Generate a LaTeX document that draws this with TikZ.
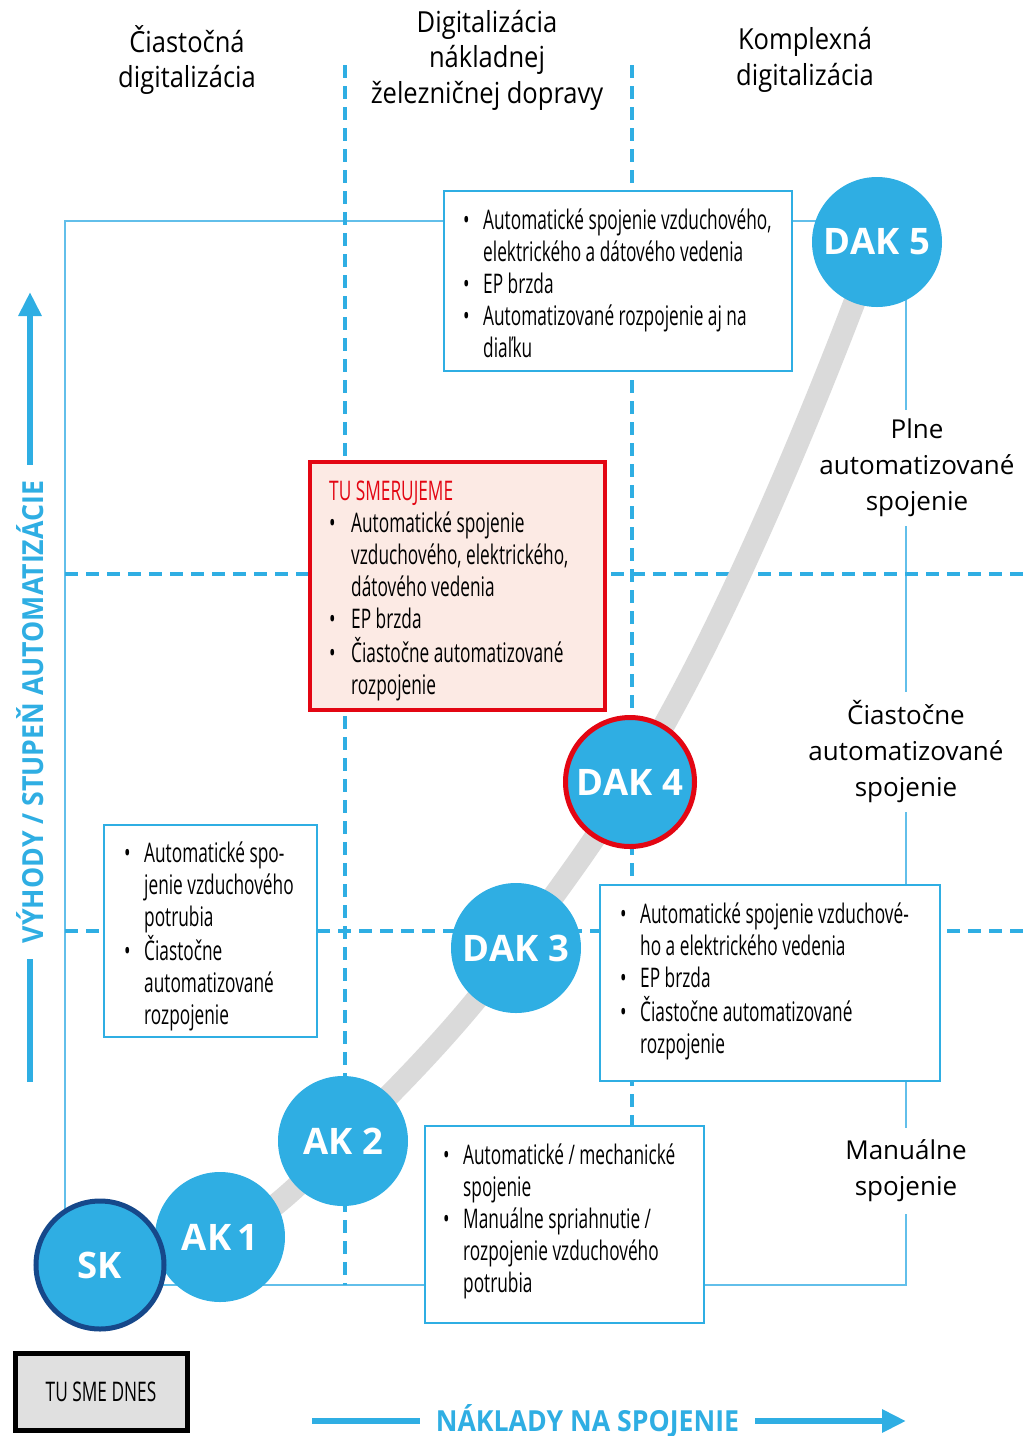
\documentclass[tikz,border=0pt]{standalone}
\usepackage{fontspec}
\setmainfont{Open Sans}
\newfontfamily\condf[FakeStretch=0.64]{Open Sans}
\newfontfamily\hdf[FakeStretch=0.88]{Open Sans}
\newfontfamily\axf[FakeStretch=0.92]{Open Sans}
\usetikzlibrary{arrows.meta}
\definecolor{cy}{HTML}{2FAEE3}
\definecolor{cyl}{HTML}{62BFEA}
\definecolor{dkb}{HTML}{16488A}
\definecolor{rd}{HTML}{E30613}
\definecolor{pk}{HTML}{FCEAE4}
\definecolor{grc}{HTML}{DADADA}
\definecolor{gbox}{HTML}{E0E0E0}
\newcommand\boxf{\condf\fontsize{27}{32}\selectfont}
\newcommand\circf{\bfseries\fontsize{36.5}{40}\selectfont}
\newcommand\lblf{\fontsize{26}{36}\selectfont}
\newcommand\hdfont{\hdf\fontsize{29}{35.5}\selectfont}
\newcommand\axfont{\axf\bfseries\fontsize{29}{32}\selectfont}
\pgfdeclarelayer{bg}
\pgfsetlayers{bg,main}
\begin{document}
\begin{tikzpicture}[x=1pt,y=-1pt,
  bx/.style={draw=cy, line width=2.5pt, fill=white, inner sep=0pt, rectangle},
  circ/.style={circle, fill=cy, inner sep=0pt, minimum size=130pt, text=white, font=\circf},
  lbl/.style={fill=white, align=center, font=\lblf, inner xsep=1pt, inner ysep=9pt},
  txt/.style={inner sep=0pt, anchor=base west, font=\boxf},
  hd/.style={align=center, font=\hdfont, inner sep=0pt},
  grid/.style={draw=cy, line width=3.5pt, dash pattern=on 13pt off 8pt},
  frame/.style={draw=cyl, line width=1.6pt},
  curve/.style={draw=grc, line width=22pt},
  axis/.style={draw=cy, line width=6pt},
  axl/.style={text=cy, font=\axfont, fill=white, inner xsep=16pt, inner ysep=4pt}]
\useasboundingbox (0,0) rectangle (1024,1436);

% headers
\node[hd] (h1) at (187,60) {Čiastočná\\digitalizácia};
\node[hd] (h2) at (487,60) {Digitalizácia\\nákladnej\\železničnej dopravy};
\node[hd] (h3) at (805,60) {Komplexná\\digitalizácia};

% circles
\node[circ] (ak1) at (220,1237) {AK\,1};
\node[circ, draw=dkb, line width=5pt, minimum size=128pt] (sk) at (100,1265) {SK};
\node[circ] (ak2) at (343,1141) {AK 2};
\node[circ] (dak3) at (516,948) {DAK 3};
\node[circ, draw=rd, line width=5pt, minimum size=129pt] (dak4) at (630,782) {DAK 4};
\node[circ] (dak5) at (877,242) {DAK 5};

\begin{pgfonlayer}{bg}
  \draw[frame] (65,221) rectangle (906,1285);
  \draw[grid] (345,65) -- (345,1285);
  \draw[grid] (632,65) -- (632,1285);
  \draw[grid] (65,574) -- (1024,574);
  \draw[grid] (65,931) -- (1024,931);
  % right labels
  \node[lbl] (plne) at (917,468) {Plne\\automatizované\\spojenie};
  \node[lbl] (ciast) at (906,752) {Čiastočne\\automatizované\\spojenie};
  \node[lbl, inner ysep=12pt] (manual) at (906,1171) {Manuálne\\spojenie};
  \draw[curve] (sk.center) .. controls +(45,-8) and +(-45,15) .. (ak1.center)
     .. controls +(45,-15) and +(-40,40) .. (ak2.center)
     .. controls +(60,-58) and +(-50,70) .. (dak3.center)
     .. controls +(40,-56) and +(-35,60) .. (dak4.center)
     .. controls +(90,-140) and +(-55,150) .. (dak5.center);
\end{pgfonlayer}

% boxes
\node[bx, minimum width=348pt, minimum height=180pt] (topbox) at (618,281) {};
\node[txt] (toptxt) at (463,229) {\begin{tabular}[t]{@{}p{20pt}@{}l@{}}
\textbullet & Automatické spojenie vzduchového,\\
 & elektrického a dátového vedenia\\
\textbullet & EP brzda\\
\textbullet & Automatizované rozpojenie aj na\\
 & diaľku\end{tabular}};

\node[bx, draw=rd, line width=4.5pt, fill=pk, minimum width=295pt, minimum height=248pt] (redbox) at (457.5,586) {};
\node[txt] (redtxt) at (329,500) {\begin{tabular}[t]{@{}p{22pt}@{}l@{}}
\multicolumn{2}{@{}l@{}}{\color{rd}TU SMERUJEME}\\
\textbullet & Automatické spojenie\\
 & vzduchového, elektrického,\\
 & dátového vedenia\\
\textbullet & EP brzda\\
\textbullet & Čiastočne automatizované\\
 & rozpojenie\end{tabular}};

\node[bx, minimum width=213pt, minimum height=212pt] (leftbox) at (210.5,931) {};
\node[txt] (lefttxt) at (124,862) {\begin{tabular}[t]{@{}p{20pt}@{}l@{}}
\textbullet & Automatické spo-\\
 & jenie vzduchového\\
 & potrubia\\
\textbullet & Čiastočne\\
 & automatizované\\
 & rozpojenie\end{tabular}};

\node[bx, minimum width=340pt, minimum height=196pt] (rightbox) at (770,983) {};
\node[txt] (righttxt) at (620,923) {\begin{tabular}[t]{@{}p{20pt}@{}l@{}}
\textbullet & Automatické spojenie vzduchové-\\
 & ho a elektrického vedenia\\
\textbullet & EP brzda\\
\textbullet & Čiastočne automatizované\\
 & rozpojenie\end{tabular}};

\node[bx, minimum width=279pt, minimum height=197pt] (botbox) at (564.5,1224.5) {};
\node[txt] (bottxt) at (443,1164) {\begin{tabular}[t]{@{}p{20pt}@{}l@{}}
\textbullet & Automatické / mechanické\\
 & spojenie\\
\textbullet & Manuálne spriahnutie /\\
 & rozpojenie vzduchového\\
 & potrubia\end{tabular}};

\node[bx, draw=black, line width=5pt, fill=gbox, minimum width=172pt, minimum height=77pt, font=\boxf] (dnes) at (101,1391.5) {TU SME DNES};

% axes
\coordinate (ybot) at (30,1082);
\coordinate (ytop) at (30,292);
\draw[axis, -{Triangle[length=24pt,width=22pt]}] (ybot) -- (ytop);
\node[axl, rotate=90] (ylab) at (30,712) {VÝHODY / STUPEŇ AUTOMATIZÁCIE};
\coordinate (xl) at (312,1421);
\coordinate (xr) at (906,1421);
\draw[axis, -{Triangle[length=24pt,width=22pt]}] (xl) -- (xr);
\node[axl] (xlab) at (587.5,1421) {NÁKLADY NA SPOJENIE};
\end{tikzpicture}
\end{document}
